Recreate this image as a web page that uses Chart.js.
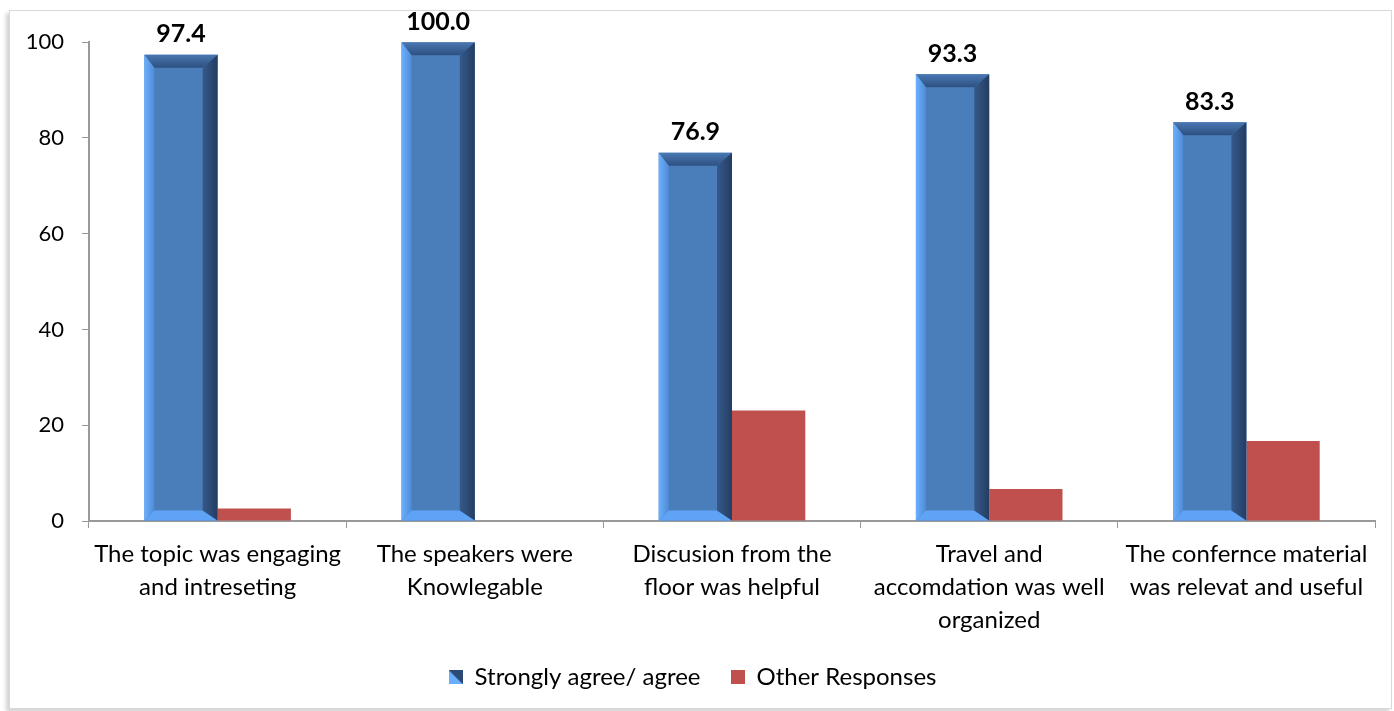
<!DOCTYPE html>
<html>
<head>
<meta charset="utf-8">
<script src="https://cdn.jsdelivr.net/npm/chart.js@4"></script>
<style>
  body { margin: 0; background: #fff; }
  #frame {
    position: absolute; left: 9px; top: 10px; width: 1381px; height: 697px;
    border: 1px solid #d9d9d9; background: #fff;
    box-shadow: -3px 3px 4px rgba(0,0,0,0.18);
  }
  #chart { display: block; }
</style>
</head>
<body>
<div id="frame"><canvas id="chart" width="1381" height="697"></canvas></div>
<script>
const categories = [
  ["The topic was engaging", "and intreseting"],
  ["The speakers were", "Knowlegable"],
  ["Discusion from the", "floor was helpful"],
  ["Travel and", "accomdation was well", "organized"],
  ["The confernce material", "was relevat and useful"]
];
const agree = [97.4, 100.0, 76.9, 93.3, 83.3];
const other = [2.6, 0, 23.1, 6.7, 16.7];
const yTicks = [0, 20, 40, 60, 80, 100];

const FONT = "Lato, 'Open Sans', sans-serif";

function swatch(kind) {
  const c = document.createElement("canvas");
  c.width = 14; c.height = 14;
  const ctx = c.getContext("2d");
  if (kind === "blue") {
    ctx.fillStyle = "#6aaeff";
    ctx.fillRect(0, 0, 14, 14);
    ctx.fillStyle = "#2c4a73";
    ctx.beginPath();
    ctx.moveTo(0, 0); ctx.lineTo(14, 0); ctx.lineTo(14, 14); ctx.closePath();
    ctx.fill();
  } else {
    ctx.fillStyle = "#c0504d";
    ctx.fillRect(0, 0, 14, 14);
  }
  return c;
}

// bevel look for blue bars + value labels
const bevelPlugin = {
  id: "bevel",
  afterDatasetsDraw(chart) {
    const ctx = chart.ctx;
    const meta = chart.getDatasetMeta(0);
    meta.data.forEach((bar, i) => {
      const p = bar.getProps(["x", "y", "base", "width"], true);
      const l = p.x - p.width / 2, r = p.x + p.width / 2, t = p.y, b = p.base;
      const bl = 10, br = 15, bt = 13, bb = 10;
      ctx.save();
      // top face
      let g = ctx.createLinearGradient(0, t, 0, t + bt);
      g.addColorStop(0, "#4a78b3"); g.addColorStop(1, "#2d5080");
      ctx.fillStyle = g;
      ctx.beginPath();
      ctx.moveTo(l, t); ctx.lineTo(r, t); ctx.lineTo(r - br, t + bt); ctx.lineTo(l + bl, t + bt); ctx.closePath();
      ctx.fill();
      // left face
      g = ctx.createLinearGradient(l, 0, l + bl, 0);
      g.addColorStop(0, "#6cb0ff"); g.addColorStop(1, "#4f8bd6");
      ctx.fillStyle = g;
      ctx.beginPath();
      ctx.moveTo(l, t); ctx.lineTo(l + bl, t + bt); ctx.lineTo(l + bl, b - bb); ctx.lineTo(l, b); ctx.closePath();
      ctx.fill();
      // bottom face
      ctx.fillStyle = "#5fa3f7";
      ctx.beginPath();
      ctx.moveTo(l, b); ctx.lineTo(l + bl, b - bb); ctx.lineTo(r - br, b - bb); ctx.lineTo(r, b); ctx.closePath();
      ctx.fill();
      // right face
      g = ctx.createLinearGradient(r - br, 0, r, 0);
      g.addColorStop(0, "#36598a"); g.addColorStop(1, "#233d62");
      ctx.fillStyle = g;
      ctx.beginPath();
      ctx.moveTo(r, t); ctx.lineTo(r - br, t + bt); ctx.lineTo(r - br, b - bb); ctx.lineTo(r, b); ctx.closePath();
      ctx.fill();
      // label
      ctx.fillStyle = "#000";
      ctx.font = "bold 25px " + FONT;
      ctx.textAlign = "center";
      ctx.textBaseline = "bottom";
      ctx.fillText(agree[i].toFixed(1), p.x, t - 8);
      ctx.restore();
    });
  }
};

new Chart(document.getElementById("chart"), {
  type: "bar",
  data: {
    labels: categories,
    datasets: [
      { label: "Strongly agree/ agree", data: agree, backgroundColor: "#4a7ebb", pointStyle: swatch("blue") },
      { label: "Other Responses", data: other, backgroundColor: "#c0504d", pointStyle: swatch("red") }
    ]
  },
  options: {
    responsive: false,
    animation: false,
    layout: { padding: { top: 29, right: 16, left: 0, bottom: 9 } },
    datasets: { bar: { categoryPercentage: 0.57, barPercentage: 1.0 } },
    plugins: {
      tooltip: { enabled: false },
      legend: {
        position: "bottom",
        labels: {
          usePointStyle: true,
          boxWidth: 14,
          boxHeight: 14,
          padding: 30,
          color: "#000",
          font: { family: FONT, size: 24 },
          generateLabels(chart) {
            return chart.data.datasets.map((ds, i) => ({
              text: ds.label,
              pointStyle: ds.pointStyle,
              fillStyle: ds.backgroundColor,
              strokeStyle: ds.backgroundColor,
              lineWidth: 0,
              datasetIndex: i,
              hidden: false
            }));
          }
        }
      }
    },
    scales: {
      x: {
        grid: { display: true, drawOnChartArea: false, tickLength: 7, color: "#999", offset: true },
        border: { color: "#999", width: 2 },
        ticks: { color: "#000", font: { family: FONT, size: 24, lineHeight: 1.375 }, padding: 10, maxRotation: 0, autoSkip: false },
        afterFit(scale) { scale.height = 114; }
      },
      y: {
        min: 0,
        max: 100,
        afterBuildTicks(scale) { scale.ticks = yTicks.map(v => ({ value: v })); },
        grid: { display: true, drawOnChartArea: false, tickLength: 7, color: "#999" },
        border: { color: "#999", width: 2 },
        ticks: { color: "#000", font: { family: FONT, size: 22 }, padding: 18 },
        afterFit(scale) { scale.width = 79; }
      }
    }
  },
  plugins: [bevelPlugin]
});
</script>
</body>
</html>
